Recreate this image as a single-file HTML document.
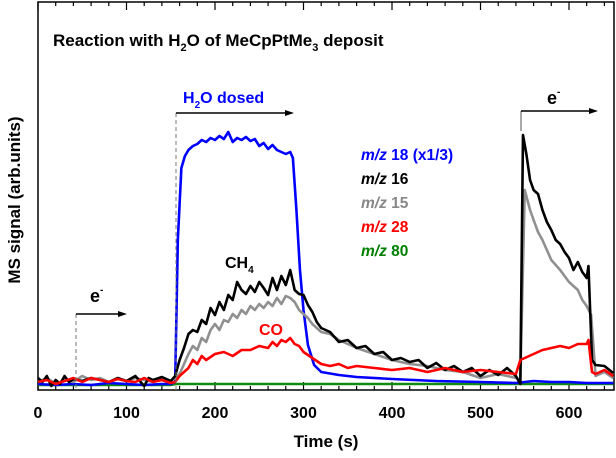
<!DOCTYPE html>
<html><head><meta charset="utf-8"><style>
body{margin:0;background:#fff;width:616px;height:453px;overflow:hidden}
svg text{font-family:"Liberation Sans",Arial,sans-serif;font-weight:bold}
</style></head><body>
<svg id="chart" width="616" height="453" xmlns="http://www.w3.org/2000/svg">
<rect x="38" y="2" width="576" height="388" fill="none" stroke="#000" stroke-width="1.5"/>
<g id="ticks"></g>
<g id="series"></g>
<text x="53" y="46" font-size="17">Reaction with H<tspan font-size="11" dy="5">2</tspan><tspan dy="-5">O of MeCpPtMe</tspan><tspan font-size="11" dy="5">3</tspan><tspan dy="-5"> deposit</tspan></text>
<text x="183" y="103" font-size="16" fill="#0000ff">H<tspan font-size="10" dy="5">2</tspan><tspan dy="-5">O dosed</tspan></text>
<line x1="176" y1="113" x2="176" y2="390" stroke="#777" stroke-dasharray="4,3"/>
<line x1="176" y1="113" x2="288" y2="113" stroke="#000" stroke-width="1.5"/>
<polygon points="294,113 285,110 285,116" fill="#000"/>
<text x="547" y="104" font-size="18">e<tspan font-size="10" dy="-9">-</tspan></text>
<line x1="521" y1="111" x2="521" y2="131" stroke="#555" stroke-width="1"/>
<line x1="521" y1="111" x2="592" y2="111" stroke="#000" stroke-width="1.5"/>
<polygon points="598,111 589,108 589,114" fill="#000"/>
<text x="90" y="302" font-size="18">e<tspan font-size="10" dy="-9">-</tspan></text>
<line x1="76" y1="314" x2="76" y2="390" stroke="#777" stroke-dasharray="4,3"/>
<line x1="76" y1="314" x2="121" y2="314" stroke="#000" stroke-width="1.5"/>
<polygon points="127,314 118,311 118,317" fill="#000"/>
<g font-size="15.5">
<text x="361" y="160" fill="#0000ff"><tspan font-style="italic">m/z</tspan> 18 (x1/3)</text>
<text x="361" y="184" fill="#000"><tspan font-style="italic">m/z</tspan> 16</text>
<text x="361" y="208" fill="#888"><tspan font-style="italic">m/z</tspan> 15</text>
<text x="361" y="232" fill="#ff0000"><tspan font-style="italic">m/z</tspan> 28</text>
<text x="361" y="256" fill="#008000"><tspan font-style="italic">m/z</tspan> 80</text>
</g>
<text x="225" y="268" font-size="16">CH<tspan font-size="10" dy="5">4</tspan></text>
<text x="259" y="335" font-size="16" fill="#ff0000">CO</text>
<text transform="translate(20,200) rotate(-90)" text-anchor="middle" font-size="17">MS signal (arb.units)</text>
<text x="326" y="447" text-anchor="middle" font-size="17">Time (s)</text>
</svg>
<script>
const xTicks=[0,100,200,300,400,500,600];
const tBlue=[0,20,40,60,80,100,120,140,150,155,158,162,166,170,175,180,185,190,195,200,205,210,215,220,225,230,235,240,245,250,255,260,265,270,275,280,285,288,292,296,300,305,312,320,340,360,400,450,500,540,560,580,600,620,640,650];
const vBlue=[6,5,6,5,7,6,5,6,6,8,150,222,234,240,244,246,250,248,252,250,254,251,258,248,252,250,253,249,251,244,247,241,245,240,238,236,238,232,180,120,80,45,25,18,15,13,11,9,8,7,9,8,8,7,7,7];
const tBlack=[0,5,10,15,20,25,30,35,40,50,60,70,80,90,100,110,120,125,130,140,150,155,160,165,170,175,180,185,190,195,200,205,210,215,220,225,230,235,240,245,250,255,260,265,270,275,280,285,290,295,300,305,310,315,320,325,330,340,350,360,370,380,390,400,410,420,430,440,450,460,470,480,490,500,510,520,530,540,545,548,552,556,560,565,570,575,580,585,590,595,600,605,610,615,620,622,626,630,640,650];
const vBlack=[12,8,14,4,10,6,14,8,11,9,12,10,8,12,9,14,4,12,10,13,9,14,30,42,56,60,58,70,66,82,75,88,80,95,90,108,100,96,104,98,108,102,95,112,100,114,105,120,100,96,95,85,78,68,62,60,58,48,50,42,44,36,38,30,32,28,30,22,27,20,24,18,22,14,20,15,22,14,6,255,235,210,200,196,180,168,160,150,146,138,132,120,128,118,112,124,30,25,24,17];
const tGray=[0,10,20,30,40,50,60,70,80,90,100,110,120,130,140,150,155,160,165,170,175,180,185,190,195,200,205,210,215,220,225,230,235,240,245,250,255,260,265,270,275,280,285,290,295,300,305,310,320,330,340,350,360,380,400,420,440,460,480,500,520,540,545,550,556,560,565,570,575,580,590,600,610,615,620,625,630,640,650];
const vGray=[8,12,6,10,8,14,10,12,8,11,9,12,10,8,12,9,12,16,26,36,44,40,52,48,60,66,60,70,68,76,72,80,76,84,80,86,82,88,84,92,86,94,92,88,80,76,72,66,58,56,50,46,42,36,30,26,24,20,18,12,16,12,10,200,180,170,158,150,140,130,120,108,100,90,84,75,14,18,12];
const tRed=[0,10,20,30,40,50,60,70,80,90,100,110,120,130,140,150,155,160,165,170,175,180,185,190,200,210,220,230,240,250,260,265,270,275,280,285,290,295,300,310,320,330,340,350,360,380,400,420,440,460,480,500,520,540,545,550,560,570,580,590,600,610,620,622,626,630,640,650];
const vRed=[8,10,6,9,12,8,12,10,8,11,9,8,12,8,10,7,8,14,18,22,30,26,34,30,36,38,34,40,40,44,42,48,44,50,48,52,46,44,38,32,26,24,26,22,24,22,20,22,18,22,18,20,18,16,30,32,36,40,42,44,42,46,46,50,18,16,20,14];
const tGreen=[0,100,150,156,200,300,400,500,600,650];
const vGreen=[5,5,5,6,6,6,6,6,6,6];
const X0=38,XS=0.885,Y0=390;
function sx(t){return X0+t*XS;}
function sy(v){return Y0-v;}
const NS="http://www.w3.org/2000/svg";
const tg=document.getElementById('ticks');
for(let t=0;t<=640;t+=20){
  const major=t%100===0;
  [[Y0,Y0-(major?8:4)],[2,2+(major?8:4)]].forEach(p=>{
    const l=document.createElementNS(NS,'line');
    
    
    l.setAttribute('x1',sx(t));l.setAttribute('x2',sx(t));
    l.setAttribute('y1',p[0]);l.setAttribute('y2',p[1]);
    l.setAttribute('stroke','#000');l.setAttribute('stroke-width','1.2');
    tg.appendChild(l);
  });
}
xTicks.forEach(t=>{
  const tx=document.createElementNS(NS,'text');
  
  
  tx.setAttribute('x',sx(t));tx.setAttribute('y',418);
  tx.setAttribute('text-anchor','middle');tx.setAttribute('font-size','16');
  tx.textContent=t;tg.appendChild(tx);
});
const sg=document.getElementById('series');
function draw(ts,vs,color,name){
  const p=document.createElementNS(NS,'polyline');
  
  
  p.setAttribute('points',ts.map((t,i)=>sx(t)+','+sy(vs[i])).join(' '));
  p.setAttribute('fill','none');p.setAttribute('stroke',color);
  p.setAttribute('stroke-width','2.6');p.setAttribute('stroke-linejoin','round');
  sg.appendChild(p);
}
draw(tGreen,vGreen,'#128a12','series-mz80');
draw(tBlue,vBlue,'#0000ff','series-mz18');
draw(tGray,vGray,'#909090','series-mz15');
draw(tBlack,vBlack,'#000000','series-mz16');
draw(tRed,vRed,'#ff0000','series-mz28');
</script>
</body></html>
